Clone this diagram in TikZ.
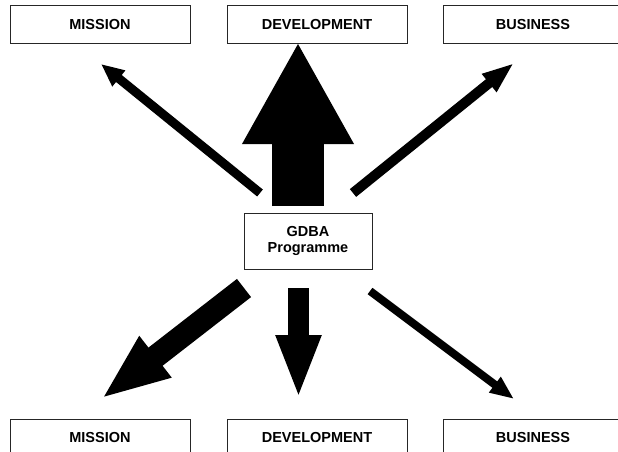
\documentclass[tikz,border=0pt]{standalone}
\usepackage{fontspec}
\setmainfont{Liberation Sans}
\usetikzlibrary{arrows.meta}
\begin{document}
\begin{tikzpicture}[x=1pt,y=-1pt,
  box/.style={draw=black!85,line width=1pt,fill=white,minimum width=180pt,minimum height=38pt,
    inner sep=0pt,font=\fontsize{14.5}{17}\selectfont\bfseries},
  hub/.style={draw=black!85,line width=1pt,fill=white,minimum width=128pt,minimum height=56pt,
    inner sep=0pt,align=center,font=\fontsize{14.5}{17}\selectfont\bfseries},
  flow/.style={line width=#1,draw=black}
]
\useasboundingbox (0,0) rectangle (618,452);

% outer boxes
\node[box] (mt) at (100,25) {MISSION};
\node[box] (dt) at (317,25) {DEVELOPMENT};
\node[box] (bt) at (533,25) {BUSINESS};
\node[box] (mb) at (100,438) {MISSION};
\node[box] (db) at (317,438) {DEVELOPMENT};
\node[box] (bb) at (533,438) {BUSINESS};

% programme box
\node[hub] (g) at (308,241) {GDBA\\[-1pt]Programme};

% arrow ends
\coordinate (ulT) at (260,193); \coordinate (ulH) at (101,64);
\coordinate (upT) at (298,206); \coordinate (upH) at (298,42);
\coordinate (urT) at (353,193); \coordinate (urH) at (514,63);
\coordinate (llT) at (244,288); \coordinate (llH) at (101,399);
\coordinate (dnT) at (298.5,288); \coordinate (dnH) at (298.5,399);
\coordinate (lrT) at (370,291); \coordinate (lrH) at (514,399);

% arrows out of the programme
\draw[flow=9pt,-{Triangle[length=23pt,width=19pt]}] (ulT) -- (ulH);
\draw[flow=52pt,-{Triangle[length=102pt,width=104pt]}] (upT) -- (upH);
\draw[flow=10pt,-{Triangle[length=32pt,width=21pt]}] (urT) -- (urH);
\draw[flow=23pt,-{Triangle[length=69pt,width=47pt]}] (llT) -- (llH);
\draw[flow=21pt,-{Triangle[length=64pt,width=41pt]}] (dnT) -- (dnH);
\draw[flow=8pt,-{Triangle[length=24pt,width=18pt]}] (lrT) -- (lrH);
\end{tikzpicture}
\end{document}
